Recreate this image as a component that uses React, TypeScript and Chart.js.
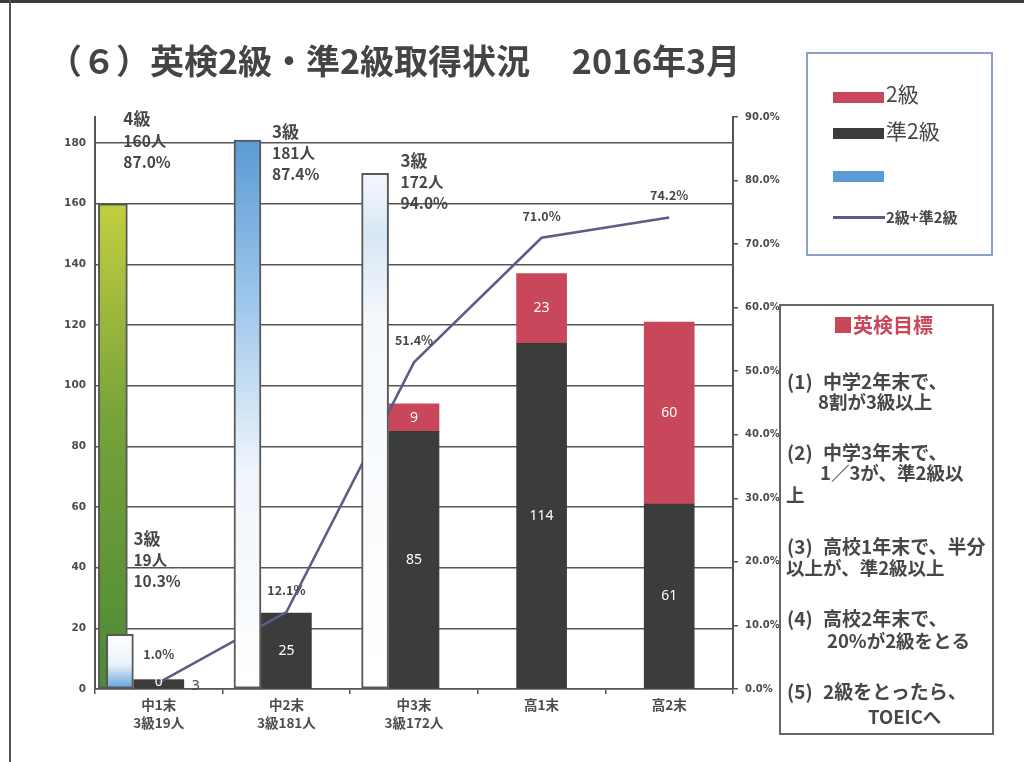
import React, { useEffect, useRef } from "react";
import { Chart, registerables } from "chart.js";

Chart.register(...registerables);

// ---------- data ----------
const CATEGORIES: (string | string[])[] = [
  ["中1末", "3級19人"],
  ["中2末", "3級181人"],
  ["中3末", "3級172人"],
  "高1末",
  "高2末",
];
const PRE2_VALUES = [3, 25, 85, 114, 61]; // 準2級
const G2_VALUES: (number | null)[] = [0, null, 9, 23, 60]; // 2級
const RATE_VALUES = [1.0, 12.1, 51.4, 71.0, 74.2]; // 2級+準2級 (%)
const G3_VALUES = [18, 181, 170]; // 3級 bars at 中1末, 中2末, 中3末
const G4_VALUES = [160]; // 4級 bar at 中1末
const NOTE_GRADES = ["4級", "3級", "3級", "3級"];
const NOTE_COUNTS = ["160人", "19人", "181人", "172人"];
const NOTE_PCTS = ["87.0%", "10.3%", "87.4%", "94.0%"];
const LEFT_MAX = 188.6;
const LEFT_STEP = 20;
const RIGHT_MAX = 90;
const RIGHT_STEP = 10;

const SERIES_NAMES = ["2級", "準2級", "", "2級+準2級"];

const GOAL_TITLE = "■英検目標";
const GOAL_NUMS = ["(1)", "(2)", "(3)", "(4)", "(5)"];
const GOAL_FIRST = ["中学2年末で、", "中学3年末で、", "高校1年末で、半分", "高校2年末で、", "2級をとったら、"];

// ---------- styles ----------
const RED = "#c8475a";
const DARK = "#3b3d3b";
const BLUE = "#5b9bd5";
const LINE = "#5a5e86";
const TEXT = "#474747";
const FONT = "'Noto Sans CJK JP', 'Noto Sans', sans-serif";

const G3_OFFSET = -0.305;
const G4_OFFSET = -0.36;

const G3_STOPS: [number, string][][] = [
  [[0, "#ffffff"], [0.55, "#eaf2fa"], [1, "#5ea2da"]],
  [[0, "#5b9bd5"], [0.3, "#9fc7ec"], [0.6, "#eef5fb"], [1, "#ffffff"]],
  [[0, "#f4f8fc"], [0.12, "#d8e7f5"], [0.28, "#f4f8fc"], [1, "#ffffff"]],
];
const G4_STOPS: [number, string][] = [[0, "#c2ce3f"], [0.45, "#76a23a"], [1, "#4c8a35"]];

function gradient(c: any, stops: [number, string][]) {
  const chart = c.chart;
  if (!chart.chartArea || !c.parsed) return stops[stops.length - 1][1];
  const y = chart.scales.y;
  const top = y.getPixelForValue(c.parsed.y);
  const bottom = y.getPixelForValue(0);
  const g = chart.ctx.createLinearGradient(0, top, 0, bottom);
  stops.forEach(([o, col]) => g.addColorStop(o, col));
  return g;
}

// note offsets relative to (bar right edge, bar top)
const NOTE_DX = [-4, 0, 11, 12];
const NOTE_DY = [-85, -96, -9, -13];

const labelPlugin = {
  id: "labels",
  afterDatasetsDraw(chart: any) {
    const ctx = chart.ctx;
    ctx.save();
    ctx.textAlign = "center";
    ctx.textBaseline = "middle";
    // stacked bar values
    const preMeta = chart.getDatasetMeta(0);
    const g2Meta = chart.getDatasetMeta(1);
    ctx.font = `14px 'Noto Sans', sans-serif`;
    PRE2_VALUES.forEach((v, i) => {
      const el = preMeta.data[i];
      const h = Math.abs(el.base - el.y);
      if (h < 16) {
        ctx.fillStyle = TEXT;
        ctx.fillText(String(v), el.x + el.width / 2 + 12, (el.y + el.base) / 2 + 2);
      } else {
        ctx.fillStyle = "#ffffff";
        ctx.fillText(String(v), el.x, (el.y + el.base) / 2);
      }
    });
    G2_VALUES.forEach((v, i) => {
      if (v === null) return;
      const el = g2Meta.data[i];
      ctx.fillStyle = "#ffffff";
      ctx.fillText(String(v), el.x, (el.y + el.base) / 2 + (v === 0 ? 2 : 0));
    });
    // line labels
    const lineMeta = chart.getDatasetMeta(4);
    ctx.font = `bold 12.5px ${FONT}`;
    ctx.fillStyle = TEXT;
    RATE_VALUES.forEach((v, i) => {
      const p = lineMeta.data[i];
      const dy = i === 0 ? -28 : -22;
      ctx.fillText(v.toFixed(1) + "%", p.x, p.y + dy);
    });
    // side bar notes
    const g3Meta = chart.getDatasetMeta(2);
    const g4Meta = chart.getDatasetMeta(3);
    const els = [g4Meta.data[0], g3Meta.data[0], g3Meta.data[1], g3Meta.data[2]];
    ctx.textAlign = "left";
    els.forEach((el: any, k: number) => {
      const x = el.x + el.width / 2 + NOTE_DX[k];
      const y = el.y + NOTE_DY[k];
      ctx.fillStyle = TEXT;
      ctx.font = `bold 17px ${FONT}`;
      ctx.fillText(NOTE_GRADES[k], x, y);
      ctx.font = `bold 15.5px ${FONT}`;
      ctx.fillText(NOTE_COUNTS[k], x, y + 22);
      ctx.fillText(NOTE_PCTS[k], x, y + 43);
    });
    ctx.restore();
  },
};

export default function App() {
  const ref = useRef<HTMLCanvasElement>(null);
  useEffect(() => {
    const chart = new Chart(ref.current as HTMLCanvasElement, {
      type: "bar",
      data: {
        labels: CATEGORIES,
        datasets: [
          {
            type: "bar",
            label: SERIES_NAMES[1],
            data: PRE2_VALUES,
            backgroundColor: DARK,
            xAxisID: "x",
            yAxisID: "y",
            barThickness: 50,
            grouped: false,
            order: 2,
          } as any,
          {
            type: "bar",
            label: SERIES_NAMES[0],
            data: G2_VALUES,
            backgroundColor: RED,
            xAxisID: "x",
            yAxisID: "y",
            barThickness: 50,
            grouped: false,
            order: 2,
          } as any,
          {
            type: "bar",
            label: SERIES_NAMES[2],
            data: G3_VALUES.map((v, i) => ({ x: i + G3_OFFSET, y: v })),
            backgroundColor: (c: any) => gradient(c, G3_STOPS[c.dataIndex] || G3_STOPS[2]),
            borderColor: "#585858",
            borderWidth: 2,
            borderSkipped: false,
            xAxisID: "xs",
            yAxisID: "y",
            barThickness: 27,
            grouped: false,
            stack: "g3",
            order: 0,
          } as any,
          {
            type: "bar",
            label: "4級",
            data: G4_VALUES.map((v, i) => ({ x: i + G4_OFFSET, y: v })),
            backgroundColor: (c: any) => gradient(c, G4_STOPS),
            borderColor: "#585858",
            borderWidth: 2,
            borderSkipped: false,
            xAxisID: "xs",
            yAxisID: "y",
            barThickness: 29,
            grouped: false,
            stack: "g4",
            order: 0,
          } as any,
          {
            type: "line",
            label: SERIES_NAMES[3],
            data: RATE_VALUES,
            borderColor: LINE,
            borderWidth: 2.5,
            pointRadius: 0,
            tension: 0,
            xAxisID: "x",
            yAxisID: "y2",
            order: 1,
          },
        ],
      },
      options: {
        responsive: false,
        animation: false,
        layout: { padding: { left: 0, right: 231, top: 117, bottom: 23 } },
        plugins: {
          legend: { display: false },
          tooltip: { enabled: false },
          title: { display: false },
        },
        scales: {
          x: {
            type: "category",
            stacked: true,
            offset: true,
            grid: {
              display: true,
              drawOnChartArea: false,
              drawTicks: true,
              tickLength: 5,
              color: "#555",
              lineWidth: 1.5,
              offset: true,
            },
            border: { display: true, color: "#555", width: 1.5 },
            ticks: {
              color: "#4c4c4c",
              font: { family: FONT, size: 13.5, weight: "bold", lineHeight: 1.33 },
              padding: 2,
              maxRotation: 0,
              autoSkip: false,
            },
            afterFit: (s: any) => {
              s.height = 50;
            },
          },
          xs: {
            type: "linear",
            display: false,
            offset: false,
            min: -0.5,
            max: 4.5,
          },
          y: {
            type: "linear",
            position: "left",
            stacked: true,
            min: 0,
            max: LEFT_MAX,
            ticks: {
              stepSize: LEFT_STEP,
              color: "#4c4c4c",
              font: { family: "'DejaVu Sans', sans-serif", size: 10.5, weight: "bold" },
              padding: 9,
            },
            afterBuildTicks: (axis: any) => {
              axis.ticks = axis.ticks.filter((t: any) => t.value % LEFT_STEP === 0);
            },
            grid: { color: "#555", lineWidth: 1.5, drawTicks: false },
            border: { display: true, color: "#555", width: 2 },
            afterFit: (s: any) => {
              s.width = 95;
            },
          },
          y2: {
            type: "linear",
            position: "right",
            min: 0,
            max: RIGHT_MAX,
            ticks: {
              stepSize: RIGHT_STEP,
              color: "#4c4c4c",
              font: { family: "'DejaVu Sans', sans-serif", size: 10, weight: "bold" },
              padding: 7,
              callback: (v: any) => Number(v).toFixed(1) + "%",
            },
            grid: { drawOnChartArea: false, drawTicks: true, tickLength: 5, color: "#555", lineWidth: 1.5 },
            border: { display: true, color: "#555", width: 2 },
            afterFit: (s: any) => {
              s.width = 60;
            },
          },
        },
      } as any,
      plugins: [labelPlugin],
    });
    return () => chart.destroy();
  }, []);

  const abs = (left: number, centerY: number, size: number, extra: any = {}) => ({
    position: "absolute" as const,
    left,
    top: centerY - Math.round(size * 0.7),
    fontSize: size,
    lineHeight: `${Math.round(size * 1.4)}px`,
    whiteSpace: "pre" as const,
    color: TEXT,
    ...extra,
  });

  const legendColors = [RED, DARK, BLUE];
  const goalY = [380, 451, 545, 617, 690];
  const bold = { fontWeight: "bold" };

  return (
    <div
      style={{
        position: "absolute",
        left: 0,
        top: 0,
        width: 1024,
        height: 762,
        background: "#ffffff",
        overflow: "hidden",
        fontFamily: FONT,
      }}
    >
      <canvas
        ref={ref}
        width={1024}
        height={762}
        style={{ position: "absolute", left: 0, top: 0, width: 1024, height: 762 }}
      />
      {/* page frame */}
      <div style={{ position: "absolute", left: 0, top: 0, width: 1024, height: 3, background: "#3c3c3c" }} />
      <div style={{ position: "absolute", left: 9, top: 0, width: 2, height: 762, background: "#555" }} />
      {/* title */}
      <div style={abs(48, 60, 34, { fontWeight: "bold", color: "#444" })}>
        （６）英検2級・準2級取得状況　 2016年3月
      </div>
      {/* legend */}
      <div
        style={{
          position: "absolute",
          left: 806,
          top: 52,
          width: 187,
          height: 204,
          boxSizing: "border-box",
          border: "2px solid #88a3c6",
        }}
      />
      {legendColors.map((c, i) => (
        <div
          key={i}
          style={{
            position: "absolute",
            left: 833,
            top: [92, 128, 171][i],
            width: 51,
            height: 11,
            background: c,
          }}
        />
      ))}
      <div style={{ position: "absolute", left: 833, top: 216, width: 52, height: 3, background: LINE }} />
      <div style={abs(886, 94, 21)}>{SERIES_NAMES[0]}</div>
      <div style={abs(886, 131, 21)}>{SERIES_NAMES[1]}</div>
      <div style={abs(886, 217, 15, bold)}>{SERIES_NAMES[3]}</div>
      {/* goals box */}
      <div
        style={{
          position: "absolute",
          left: 779,
          top: 304,
          width: 215,
          height: 431,
          boxSizing: "border-box",
          border: "2px solid #666",
        }}
      />
      <div style={abs(833, 325, 20, { fontWeight: "bold", color: "#c9465b" })}>{GOAL_TITLE}</div>
      {GOAL_NUMS.map((n, i) => (
        <div key={"n" + i} style={abs(787, goalY[i], 19, bold)}>{n}</div>
      ))}
      {GOAL_FIRST.map((t, i) => (
        <div key={"f" + i} style={abs(823, goalY[i], 19, bold)}>{t}</div>
      ))}
      <div style={abs(818, 401, 18.5, bold)}>8割が3級以上</div>
      <div style={abs(820, 472, 18.5, bold)}>1／3が、準2級以</div>
      <div style={abs(786, 494, 18.5, bold)}>上</div>
      <div style={abs(786, 567, 18.5, bold)}>以上が、準2級以上</div>
      <div style={abs(827, 640, 18.5, bold)}>20%が2級をとる</div>
      <div style={abs(868, 716, 18.5, bold)}>TOEICへ</div>
    </div>
  );
}
